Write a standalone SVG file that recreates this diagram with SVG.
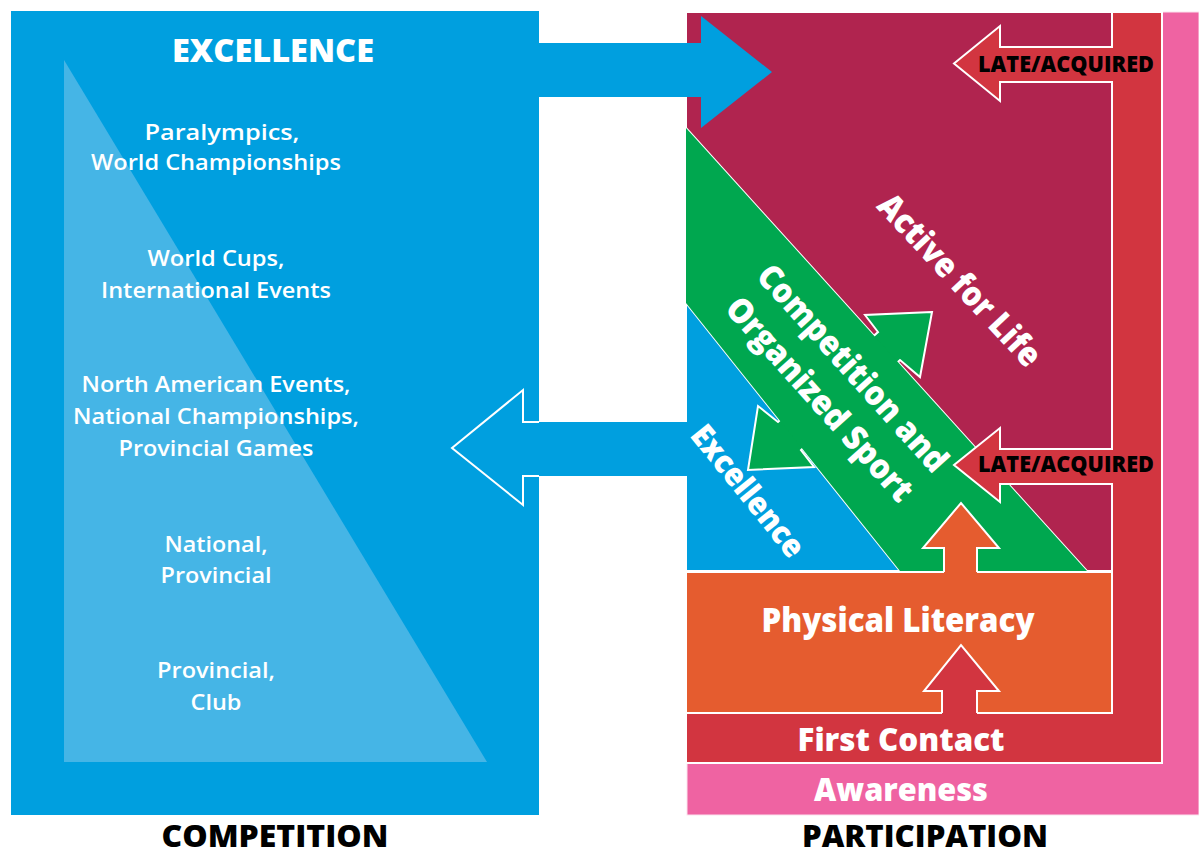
<svg xmlns="http://www.w3.org/2000/svg" width="1199" height="854" viewBox="0 0 1199 854">
<style>
.w{fill:#ffffff;font-family:"Open Sans","Noto Sans",sans-serif;font-weight:800;text-anchor:middle}
.s{fill:#ffffff;font-family:"Open Sans","Noto Sans",sans-serif;font-weight:600;font-size:22px;text-anchor:middle}
.k{fill:#000000;font-family:"Open Sans","Noto Sans",sans-serif;font-weight:800;text-anchor:middle}
.ol{fill:none;stroke:#ffffff;stroke-width:2;stroke-linejoin:miter}
.edge{stroke:#ffffff;stroke-width:2}
</style>
<rect width="1199" height="854" fill="#ffffff"/>

<g id="competition">
  <rect x="11" y="11" width="528" height="804" fill="#009fdf"/>
  <polygon points="64,60 64,762 487,762" fill="#45b5e6"/>
  <text class="w" x="273" y="62" font-size="32" textLength="202" lengthAdjust="spacingAndGlyphs">EXCELLENCE</text>
  <text class="s" x="222" y="140" textLength="155" lengthAdjust="spacingAndGlyphs">Paralympics,</text>
  <text class="s" x="216" y="170" textLength="250" lengthAdjust="spacingAndGlyphs">World Championships</text>
  <text class="s" x="216" y="266" textLength="137" lengthAdjust="spacingAndGlyphs">World Cups,</text>
  <text class="s" x="216" y="298" textLength="230" lengthAdjust="spacingAndGlyphs">International Events</text>
  <text class="s" x="216" y="392" textLength="269" lengthAdjust="spacingAndGlyphs">North American Events,</text>
  <text class="s" x="216" y="424" textLength="286" lengthAdjust="spacingAndGlyphs">National Championships,</text>
  <text class="s" x="216" y="456" textLength="195" lengthAdjust="spacingAndGlyphs">Provincial Games</text>
  <text class="s" x="216" y="552" textLength="103" lengthAdjust="spacingAndGlyphs">National,</text>
  <text class="s" x="216" y="583" textLength="111" lengthAdjust="spacingAndGlyphs">Provincial</text>
  <text class="s" x="216" y="678" textLength="118" lengthAdjust="spacingAndGlyphs">Provincial,</text>
  <text class="s" x="216" y="710" textLength="51" lengthAdjust="spacingAndGlyphs">Club</text>
  <text class="k" x="275" y="847" font-size="30" textLength="227" lengthAdjust="spacingAndGlyphs">COMPETITION</text>
</g>

<g id="awareness">
  <rect x="687" y="12" width="512" height="803" fill="#ef63a2" stroke="#fbe3ee" stroke-width="1"/>
  <text class="w" x="901" y="801" font-size="31" textLength="174" lengthAdjust="spacingAndGlyphs">Awareness</text>
</g>

<g id="first-contact">
  <rect x="686" y="12" width="476" height="751" fill="#d23540" class="edge"/>
  <text class="w" x="901" y="751" font-size="31" textLength="207" lengthAdjust="spacingAndGlyphs">First Contact</text>
</g>

<g id="active-for-life">
  <rect x="686" y="12" width="426" height="559" fill="#b0244f" class="edge"/>
</g>

<g id="competition-band">
  <polygon id="band" points="686,128 1087,571 900,571 686,303" fill="#00a74f" class="edge"/>
</g>

<g id="excellence-region">
  <polygon points="686,303 900,571 686,571" fill="#009fdf" class="edge"/>
</g>

<g id="physical-literacy">
  <rect x="686" y="572" width="426" height="141" fill="#e55c2f" class="edge"/>
  <text class="w" x="898" y="632" font-size="33" textLength="273" lengthAdjust="spacingAndGlyphs">Physical Literacy</text>
</g>

<g id="connectors">
  <!-- double arrow across band -->
  <polygon points="932,312 865,315 878,332 778,422 758,406 748,470 814,467 801,450 900,360 920,377" fill="#00a74f" stroke="#ffffff" stroke-width="2"/>
  <polygon points="686,128 1087,571 900,571 686,303" fill="#00a74f"/>
  <!-- top blue arrow to Active for Life -->
  <polygon points="530,43 701,43 701,16 772,72 701,128 701,97 530,97" fill="#009fdf"/>
  <!-- left blue arrow from Excellence -->
  <polygon points="690,422 523,422 523,390 452,448 523,505 523,476 690,476" fill="#009fdf"/>
  <polyline class="ol" points="539,422 523,422 523,390 452,448 523,505 523,476 539,476"/>
  <!-- late/acquired arrows -->
  <polygon points="1120,47 1000,47 1000,26 954,63.5 1000,101 1000,82 1120,82" fill="#d23540"/>
  <polyline class="ol" points="1113,47 1000,47 1000,26 954,63.5 1000,101 1000,82 1113,82"/>
  <polygon points="1120,449 1000,449 1000,428 954,465 1000,502 1000,484 1120,484" fill="#d23540"/>
  <polyline class="ol" points="1113,449 1000,449 1000,428 954,465 1000,502 1000,484 1113,484"/>
  <!-- physical literacy up arrow -->
  <polygon points="944,580 944,548 923,548 961,503 999,548 977,548 977,580" fill="#e55c2f"/>
  <polyline class="ol" points="944,572 944,548 923,548 961,503 999,548 977,548 977,572"/>
  <!-- first contact up arrow -->
  <polygon points="942,722 942,691 924,691 961,645 999,691 977,691 977,722" fill="#d23540"/>
  <polyline class="ol" points="942,713 942,691 924,691 961,645 999,691 977,691 977,713"/>
</g>

<g id="labels">
  <text class="k" x="1066" y="72" font-size="22" textLength="176" lengthAdjust="spacingAndGlyphs">LATE/ACQUIRED</text>
  <text class="k" x="1066" y="472" font-size="22" textLength="176" lengthAdjust="spacingAndGlyphs">LATE/ACQUIRED</text>
  <text class="w" transform="translate(960,280) rotate(47)" x="0" y="12" font-size="34" textLength="222" lengthAdjust="spacingAndGlyphs">Active for Life</text>
  <text class="w" transform="translate(853,368) rotate(48)" x="0" y="12" font-size="34" textLength="266" lengthAdjust="spacingAndGlyphs">Competition and</text>
  <text class="w" transform="translate(820,399) rotate(48)" x="0" y="12" font-size="34" textLength="262" lengthAdjust="spacingAndGlyphs">Organized Sport</text>
  <text class="w" transform="translate(748,491) rotate(51)" x="0" y="11" font-size="32" textLength="160" lengthAdjust="spacingAndGlyphs">Excellence</text>
  <text class="k" x="925" y="847" font-size="30" textLength="246" lengthAdjust="spacingAndGlyphs">PARTICIPATION</text>
</g>
</svg>
